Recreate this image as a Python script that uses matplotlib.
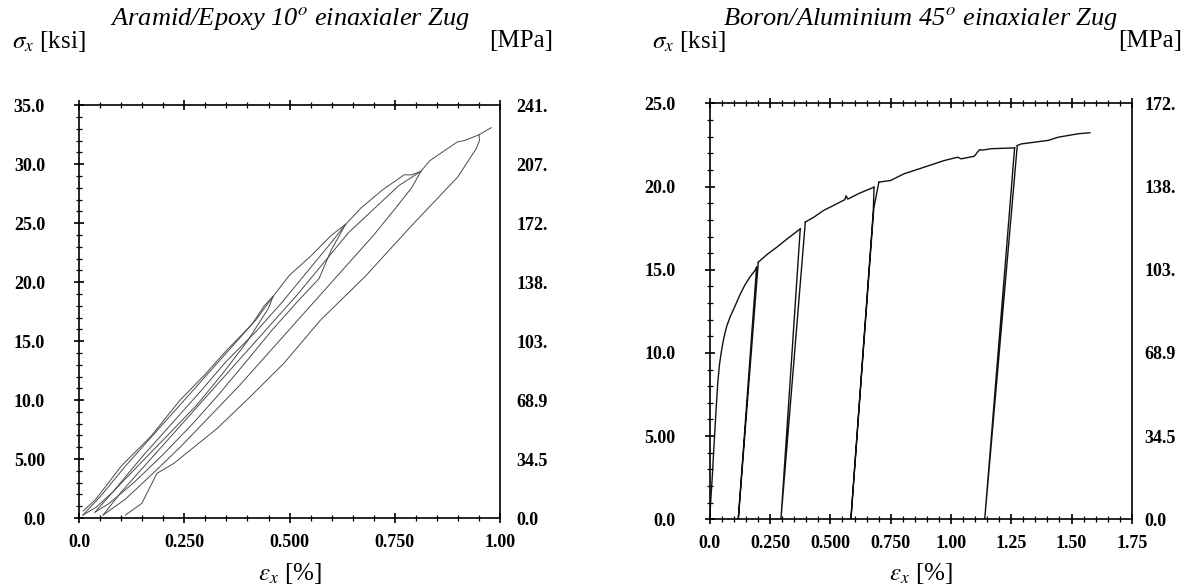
import matplotlib
matplotlib.use("Agg")
from matplotlib import pyplot as plt
from matplotlib.ticker import MultipleLocator
import numpy as np

plt.rcParams['font.family'] = ['Liberation Serif', 'DejaVu Serif']
plt.rcParams['mathtext.fontset'] = 'stix'

# ---- Aramid/Epoxy 10 deg: load / unload loops (strain %, stress ksi)
load1_x = [0.010, 0.040, 0.100, 0.170, 0.240, 0.300, 0.350, 0.410, 0.440, 0.461]
load1_y = [0.60, 1.60, 4.40, 6.90, 10.0, 12.2, 14.2, 16.4, 18.0, 18.8]
unload1_x = [0.461, 0.450, 0.400, 0.340, 0.280, 0.210, 0.150, 0.080, 0.040, 0.009]
unload1_y = [18.8, 17.8, 15.0, 12.2, 9.6, 7.0, 4.8, 2.2, 0.9, 0.25]
load2_x = [0.009, 0.050, 0.110, 0.180, 0.250, 0.310, 0.370, 0.420, 0.461, 0.500, 0.550, 0.600, 0.633]
load2_y = [0.25, 1.80, 4.40, 7.20, 10.0, 12.4, 14.8, 16.8, 18.8, 20.6, 22.2, 24.0, 24.9]
unload2_x = [0.633, 0.600, 0.570, 0.520, 0.460, 0.400, 0.330, 0.270, 0.200, 0.130, 0.070, 0.038]
unload2_y = [24.9, 22.8, 20.3, 18.4, 16.0, 13.4, 10.4, 8.0, 5.4, 3.0, 1.2, 0.5]
load3_x = [0.038, 0.080, 0.150, 0.220, 0.290, 0.350, 0.420, 0.480, 0.540, 0.600, 0.633,
           0.670, 0.720, 0.772, 0.790, 0.812]
load3_y = [0.5, 2.2, 5.2, 8.0, 10.8, 13.3, 15.8, 18.2, 20.8, 23.4, 24.9,
           26.3, 27.8, 29.1, 29.1, 29.4]
unload3_x = [0.812, 0.790, 0.750, 0.700, 0.640, 0.580, 0.520, 0.450, 0.380, 0.310, 0.240,
             0.170, 0.110, 0.057]
unload3_y = [29.4, 28.0, 26.2, 24.0, 21.6, 19.2, 16.8, 14.0, 11.2, 8.6, 6.0, 3.6, 1.6, 0.25]
load4_x = [0.057, 0.100, 0.170, 0.240, 0.310, 0.380, 0.450, 0.520, 0.580, 0.640, 0.700,
           0.760, 0.812, 0.833, 0.870, 0.899, 0.915, 0.950, 0.979]
load4_y = [0.25, 2.2, 5.0, 7.8, 10.6, 13.4, 16.2, 19.0, 21.6, 24.2, 26.2,
           28.2, 29.4, 30.3, 31.2, 31.9, 32.0, 32.5, 33.1]
unload4_x = [0.950, 0.951, 0.943, 0.899, 0.790, 0.680, 0.574, 0.486, 0.407, 0.328, 0.225,
             0.185, 0.149, 0.110]
unload4_y = [32.5, 32.0, 31.3, 28.9, 24.8, 20.5, 16.8, 13.1, 10.3, 7.6, 4.63, 3.79, 1.24, 0.25]

# ---- Boron/Aluminium 45 deg
env1_x = [0.0, 0.003, 0.010, 0.018, 0.026, 0.033, 0.040, 0.048, 0.058, 0.070, 0.085,
          0.104, 0.125, 0.146, 0.168, 0.1875, 0.194]
env1_y = [0.0, 0.94, 2.5, 4.6, 6.6, 8.2, 9.3, 10.1, 10.9, 11.6, 12.2,
          12.8, 13.5, 14.1, 14.6, 14.96, 15.16]
cyc1_x = [0.194, 0.118, 0.201]
cyc1_y = [15.16, 0.0, 15.46]
env2_x = [0.201, 0.240, 0.278, 0.320, 0.375]
env2_y = [15.46, 15.95, 16.36, 16.85, 17.46]
cyc2_x = [0.375, 0.295, 0.396]
cyc2_y = [17.46, 0.0, 17.87]
env3_x = [0.396, 0.430, 0.472, 0.520, 0.560, 0.565, 0.572, 0.620, 0.681]
env3_y = [17.87, 18.15, 18.57, 18.92, 19.22, 19.45, 19.25, 19.60, 19.97]
cyc3_x = [0.681, 0.678, 0.585, 0.680, 0.701]
cyc3_y = [19.97, 18.57, 0.0, 18.70, 20.27]
env4_x = [0.701, 0.750, 0.805, 0.889, 0.972, 1.028, 1.042, 1.097, 1.118, 1.132, 1.167, 1.264]
env4_y = [20.27, 20.37, 20.77, 21.17, 21.57, 21.77, 21.67, 21.83, 22.22, 22.20, 22.28, 22.33]
cyc4_x = [1.264, 1.140, 1.275]
cyc4_y = [22.33, 0.0, 22.47]
env5_x = [1.275, 1.292, 1.403, 1.444, 1.528, 1.576]
env5_y = [22.47, 22.57, 22.78, 22.97, 23.18, 23.24]

# axis ticks and the MPa labels on the right
left_xticks = [0.0, 0.25, 0.5, 0.75, 1.0]
left_xlabels = ["0.0", "0.250", "0.500", "0.750", "1.00"]
left_yticks = [0, 5, 10, 15, 20, 25, 30, 35]
left_ylabels = ["0.0", "5.00", "10.0", "15.0", "20.0", "25.0", "30.0", "35.0"]
left_mpa = ["0.0", "34.5", "68.9", "103.", "138.", "172.", "207.", "241."]

right_xticks = [0.0, 0.25, 0.5, 0.75, 1.0, 1.25, 1.5, 1.75]
right_xlabels = ["0.0", "0.250", "0.500", "0.750", "1.00", "1.25", "1.50", "1.75"]
right_yticks = [0, 5, 10, 15, 20, 25]
right_ylabels = ["0.0", "5.00", "10.0", "15.0", "20.0", "25.0"]
right_mpa = ["0.0", "34.5", "68.9", "103.", "138.", "172."]

fig = plt.figure(figsize=(11.87, 5.88), dpi=100)
ax1 = fig.add_axes([0.0666, 0.119, 0.3547, 0.702])
ax2 = fig.add_axes([0.598, 0.117, 0.3555, 0.707])

gray = "#4a4a4a"
for xs, ys in [(load1_x, load1_y), (unload1_x, unload1_y), (load2_x, load2_y),
               (unload2_x, unload2_y), (load3_x, load3_y), (unload3_x, unload3_y),
               (load4_x, load4_y), (unload4_x, unload4_y)]:
    ax1.plot(xs, ys, color=gray, lw=0.7)

for xs, ys in [(env1_x, env1_y), (cyc1_x, cyc1_y), (env2_x, env2_y), (cyc2_x, cyc2_y),
               (env3_x, env3_y), (cyc3_x, cyc3_y), (env4_x, env4_y), (cyc4_x, cyc4_y),
               (env5_x, env5_y)]:
    ax2.plot(xs, ys, color="#111111", lw=1.0)


def style(ax, xticks, xlabels, yticks, ylabels, mpa, xmax, ymax, rpad):
    ax.set_xlim(0, xmax)
    ax.set_ylim(0, ymax)
    ax.set_xticks(xticks)
    ax.set_xticklabels(xlabels)
    ax.set_yticks(yticks)
    ax.set_yticklabels(ylabels)
    ax.xaxis.set_minor_locator(MultipleLocator(0.05))
    ax.yaxis.set_minor_locator(MultipleLocator(1))
    for s in ax.spines.values():
        s.set_linewidth(1.2)
    ax.tick_params(which="major", direction="inout", length=7, width=1.2,
                   top=True, right=True, labelsize=13)
    ax.tick_params(which="minor", direction="inout", length=4, width=0.9,
                   top=True, right=True)
    ax.tick_params(axis="x", which="major", pad=8)
    ax.tick_params(axis="y", which="major", pad=21)
    for lab in ax.get_xticklabels() + ax.get_yticklabels():
        lab.set_fontweight("bold")
    tw = ax.twinx()
    tw.set_ylim(0, ymax)
    tw.set_yticks(yticks)
    tw.set_yticklabels(mpa, fontweight="bold", fontsize=13)
    tw.tick_params(axis="y", which="both", length=0, pad=rpad)
    for s in tw.spines.values():
        s.set_visible(False)


style(ax1, left_xticks, left_xlabels, left_yticks, left_ylabels, left_mpa, 1.0, 35, 12)
style(ax2, right_xticks, right_xlabels, right_yticks, right_ylabels, right_mpa, 1.75, 25, 9)

fig.text(0.244, 0.968, "Aramid/Epoxy 10$^o$ einaxialer Zug", fontsize=19,
         style="italic", ha="center", va="center")
fig.text(0.776, 0.968, "Boron/Aluminium 45$^o$ einaxialer Zug", fontsize=19,
         style="italic", ha="center", va="center")

fig.text(0.010, 0.930, r"$\sigma_x$ [ksi]", fontsize=18, ha="left", va="center")
fig.text(0.466, 0.930, "[MPa]", fontsize=18, ha="right", va="center")
fig.text(0.549, 0.930, r"$\sigma_x$ [ksi]", fontsize=18, ha="left", va="center")
fig.text(0.996, 0.930, "[MPa]", fontsize=18, ha="right", va="center")
fig.text(0.244, 0.025, r"$\varepsilon_x$ [%]", fontsize=18, ha="center", va="center")
fig.text(0.776, 0.025, r"$\varepsilon_x$ [%]", fontsize=18, ha="center", va="center")

fig.savefig("out.png", dpi=100)
